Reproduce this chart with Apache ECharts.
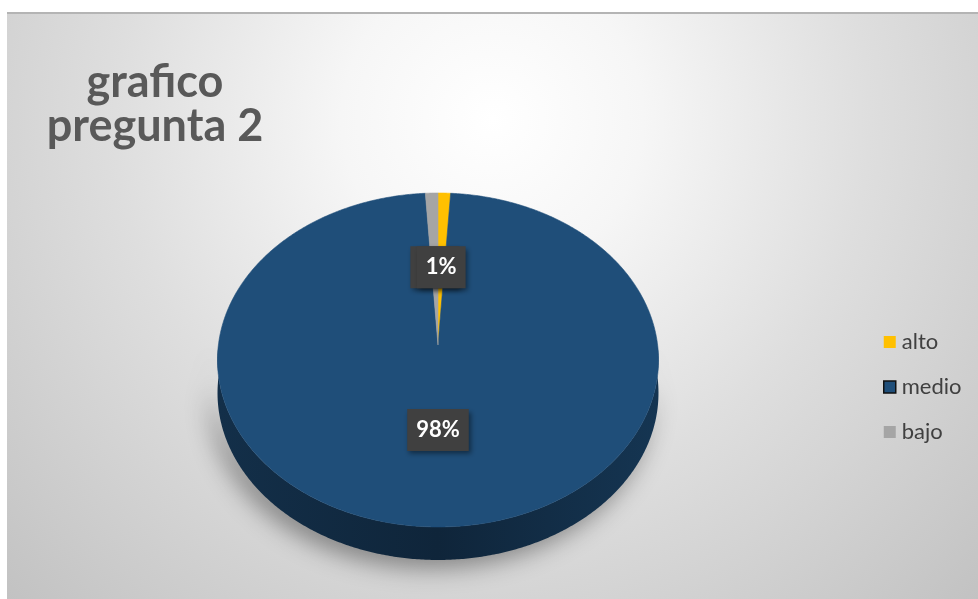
<!DOCTYPE html>
<html>
<head>
<meta charset="utf-8">
<script src="https://cdn.jsdelivr.net/npm/echarts@6/dist/echarts.min.js"></script>
<style>
  html, body { margin:0; padding:0; background:#ffffff; }
  #frame { position:absolute; left:7px; top:12px; width:971px; height:587px;
    box-sizing:border-box; border-top:2px solid #b4b4b4;
    background: radial-gradient(ellipse farthest-corner at 50% 18%, #ffffff 0%, #f6f6f6 22%, #dedede 55%, #c2c2c2 100%); }
  #chart { position:absolute; left:0; top:0; width:978px; height:599px; }
</style>
</head>
<body>
<div id="frame"></div>
<div id="chart"></div>
<script>
// ---- data ----
const categories = ['alto', 'medio', 'bajo'];
const values = [1, 98, 1];
const percentLabels = ['1%', '98%', '1%'];
const colors = ['#FFC000', '#1F4E79', '#A5A5A5'];
const titleText = 'grafico\npregunta 2';

// ---- geometry of the tilted pie (perspective projection) ----
const CX = 438, R = 219.6, A = 134.66, B = 345, C = -0.0898, DEPTH = 33, LABEL_R = 0.49;
const total = values.reduce((s, v) => s + v, 0);

function proj(theta, r, h) {
  const u = r * Math.sin(theta), v = -r * Math.cos(theta);
  const d = 1 + C * v;
  return [CX + R * u / d, (A * v + B) / d + h];
}
function arcPts(t1, t2, h) {
  const pts = [];
  const n = Math.max(2, Math.ceil(Math.abs(t2 - t1) / (Math.PI / 360)));
  for (let k = 0; k <= n; k++) pts.push(proj(t1 + (t2 - t1) * k / n, 1, h));
  return pts;
}
function shade(hex, f) {
  const n = parseInt(hex.slice(1), 16);
  const r = Math.round(((n >> 16) & 255) * f), g = Math.round(((n >> 8) & 255) * f), b = Math.round((n & 255) * f);
  return 'rgb(' + r + ',' + g + ',' + b + ')';
}

function makeRender(i) {
  return function (params, api) {
    let start = 0;
    for (let k = 0; k < i; k++) start += values[k];
    const val = api.value(0);
    const t1 = start / total * 2 * Math.PI;
    const t2 = (start + val) / total * 2 * Math.PI;
    const children = [];
    // side (front visible part)
    const a = Math.max(t1, Math.PI / 2), b = Math.min(t2, 3 * Math.PI / 2);
    if (b > a) {
      const top = arcPts(a, b, 0);
      const bot = arcPts(b, a, DEPTH);
      children.push({
        type: 'polygon', z2: 0,
        shape: { points: top.concat(bot) },
        style: {
          fill: { type: 'linear', x: 0, y: 0, x2: 1, y2: 0, colorStops: [
            { offset: 0, color: shade(colors[i], 0.6) },
            { offset: 0.5, color: shade(colors[i], 0.48) },
            { offset: 1, color: shade(colors[i], 0.68) } ] },
          shadowBlur: 24, shadowColor: 'rgba(0,0,0,0.4)', shadowOffsetX: -7, shadowOffsetY: 8
        }
      });
    }
    // top face
    const face = [proj(0, 0, 0)].concat(arcPts(t1, t2, 0));
    children.push({
      type: 'polygon', z2: 10,
      shape: { points: face },
      style: { fill: colors[i], stroke: colors[i], lineWidth: 0.6 }
    });
    // label
    const mid = (t1 + t2) / 2;
    const lp = proj(mid, LABEL_R, 0);
    children.push({
      type: 'text', z2: 20 + (i === 0 ? 2 : 0),
      style: {
        text: percentLabels[i], x: lp[0], y: lp[1], align: 'center', verticalAlign: 'middle',
        fill: '#ffffff', fontSize: 22, fontWeight: 'bold', fontFamily: 'Lato',
        backgroundColor: '#404040', padding: [10, 9],
        shadowBlur: 5, shadowColor: 'rgba(0,0,0,0.45)', shadowOffsetX: 2, shadowOffsetY: 3
      }
    });
    return { type: 'group', children: children };
  };
}

const chart = echarts.init(document.getElementById('chart'), null, { renderer: 'canvas' });
chart.setOption({
  backgroundColor: 'transparent',
  animation: false,
  title: {
    text: titleText, left: 150, top: 55, textAlign: 'center',
    textStyle: { fontSize: 45, fontWeight: 'bold', color: '#595959', fontFamily: 'Lato', lineHeight: 44 }
  },
  legend: {
    orient: 'vertical', left: 878, top: 326, itemWidth: 12, itemHeight: 12, itemGap: 23,
    icon: 'rect', selectedMode: false,
    textStyle: { fontSize: 22, color: '#404040', fontFamily: 'Lato', padding: [0, 0, 0, 1] },
    data: categories.map((c, i) => ({
      name: c,
      itemStyle: i === 1 ? { color: colors[i], borderColor: '#111111', borderWidth: 1.5 } : { color: colors[i], borderWidth: 0 }
    }))
  },
  series: categories.map((c, i) => ({
    type: 'custom', name: c, coordinateSystem: 'none',
    itemStyle: { color: colors[i] },
    data: [[values[i]]],
    renderItem: makeRender(i)
  }))
});
</script>
</body>
</html>
